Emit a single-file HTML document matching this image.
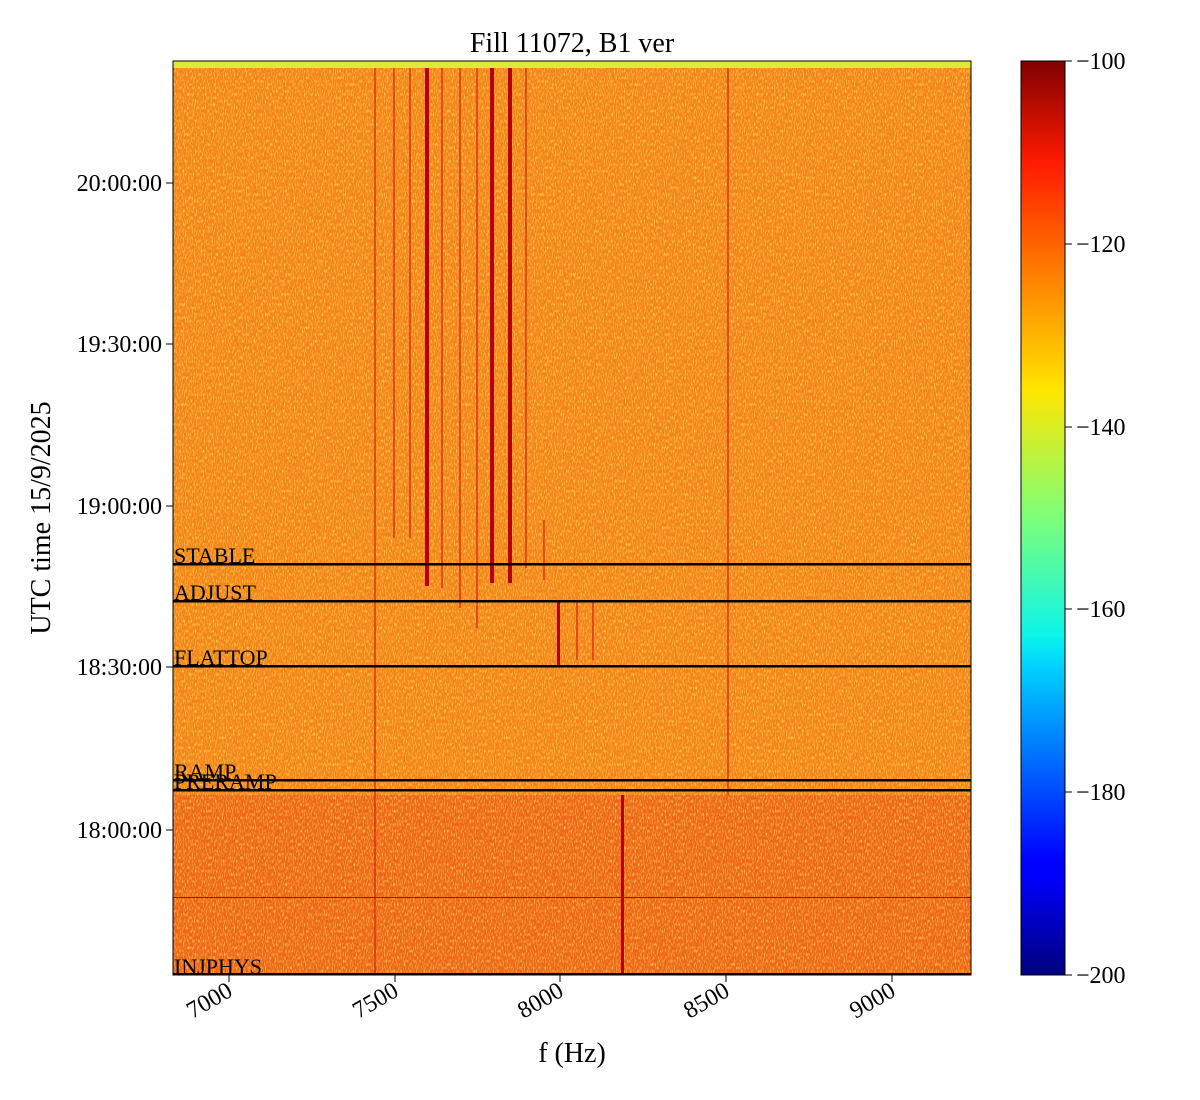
<!DOCTYPE html>
<html><head><style>body{margin:0;background:#fff}svg{display:block}text{font-family:"Liberation Serif",serif;fill:#000}</style></head><body>
<svg width="1200" height="1100" xmlns="http://www.w3.org/2000/svg">
<defs>
<linearGradient id="jet" x1="0" y1="1" x2="0" y2="0">
<stop offset="0" stop-color="#00007f"/><stop offset="0.11" stop-color="#0000ff"/><stop offset="0.125" stop-color="#0000ff"/><stop offset="0.34" stop-color="#00d4ff"/><stop offset="0.37" stop-color="#0cf4eb"/><stop offset="0.5" stop-color="#7dff7a"/><stop offset="0.64" stop-color="#ffe600"/><stop offset="0.66" stop-color="#ffd400"/><stop offset="0.89" stop-color="#ff1a00"/><stop offset="1" stop-color="#800000"/>
</linearGradient>
<filter id="n" x="0" y="0" width="100%" height="100%"><feTurbulence type="fractalNoise" baseFrequency="0.9 0.3" numOctaves="1" seed="3"/><feColorMatrix values="0 0 0 0 1  0 0 0 0 0.9  0 0 0 0 0.1  0 0 2.2 0 -1.0"/></filter>
</defs>
<text x="572" y="52" font-size="28" text-anchor="middle">Fill 11072, B1 ver</text>
<rect x="173" y="61" width="798" height="914" fill="#f4821c"/>
<rect x="173" y="795" width="798" height="180" fill="#ee641a"/>
<rect x="173" y="61" width="798" height="914" filter="url(#n)" opacity="0.9"/>
<rect x="173" y="61" width="798" height="7" fill="#dcea3a"/>
<g fill="#d62010" opacity="0.6">
<rect x="374" y="68" width="2" height="907"/><rect x="727" y="68" width="2" height="727"/>
<rect x="441" y="68" width="2" height="520"/><rect x="459" y="68" width="2" height="540"/><rect x="476" y="68" width="2" height="560"/><rect x="525" y="68" width="2" height="500"/><rect x="393" y="68" width="2" height="470"/><rect x="409" y="68" width="2" height="470"/>
<rect x="543" y="520" width="2" height="60"/><rect x="576" y="600" width="2" height="60"/><rect x="592" y="600" width="2" height="60"/>
</g>
<g fill="#b80008">
<rect x="425" y="68" width="4" height="518"/><rect x="490" y="68" width="4" height="515"/><rect x="508" y="68" width="4" height="515"/>
<rect x="557" y="600" width="3" height="65"/><rect x="621" y="795" width="3" height="180"/>
</g>
<g fill="#000">
<rect x="173" y="563" width="798" height="2.5"/><rect x="173" y="600" width="798" height="2.5"/><rect x="173" y="665" width="798" height="2.5"/><rect x="173" y="779" width="798" height="2.5"/><rect x="173" y="789" width="798" height="2.5"/><rect x="173" y="973" width="798" height="2.5"/>
</g>
<rect x="173" y="897" width="798" height="1" fill="#a01010"/>
<g font-size="22">
<text x="174" y="563">STABLE</text><text x="174" y="600">ADJUST</text><text x="174" y="665">FLATTOP</text><text x="174" y="779">RAMP</text><text x="174" y="789">PRERAMP</text><text x="174" y="974">INJPHYS</text>
</g>
<rect x="173" y="61" width="798" height="914" fill="none" stroke="#000" stroke-width="1"/>
<g stroke="#000"><line x1="229" y1="975" x2="229" y2="982"/><line x1="395" y1="975" x2="395" y2="982"/><line x1="560" y1="975" x2="560" y2="982"/><line x1="726" y1="975" x2="726" y2="982"/><line x1="892" y1="975" x2="892" y2="982"/>
<line x1="166" y1="183" x2="173" y2="183"/><line x1="166" y1="344" x2="173" y2="344"/><line x1="166" y1="506" x2="173" y2="506"/><line x1="166" y1="667" x2="173" y2="667"/><line x1="166" y1="830" x2="173" y2="830"/></g>
<g font-size="24" text-anchor="end">
<text transform="translate(234,995) rotate(-30)">7000</text><text transform="translate(400,995) rotate(-30)">7500</text><text transform="translate(565,995) rotate(-30)">8000</text><text transform="translate(731,995) rotate(-30)">8500</text><text transform="translate(897,995) rotate(-30)">9000</text>
<text x="162" y="191">20:00:00</text><text x="162" y="352">19:30:00</text><text x="162" y="514">19:00:00</text><text x="162" y="675">18:30:00</text><text x="162" y="838">18:00:00</text>
</g>
<text x="572" y="1062" font-size="28" text-anchor="middle">f (Hz)</text>
<text transform="translate(50,518) rotate(-90)" font-size="28" text-anchor="middle">UTC time 15/9/2025</text>
<rect x="1021" y="61" width="44" height="914" fill="url(#jet)" stroke="#000" stroke-width="1"/>
<g stroke="#000"><line x1="1065" y1="61" x2="1072" y2="61"/><line x1="1065" y1="244" x2="1072" y2="244"/><line x1="1065" y1="427" x2="1072" y2="427"/><line x1="1065" y1="609" x2="1072" y2="609"/><line x1="1065" y1="792" x2="1072" y2="792"/><line x1="1065" y1="975" x2="1072" y2="975"/></g>
<g font-size="24"><text x="1076" y="69">−100</text><text x="1076" y="252">−120</text><text x="1076" y="435">−140</text><text x="1076" y="617">−160</text><text x="1076" y="800">−180</text><text x="1076" y="983">−200</text></g>
</svg>
</body></html>
